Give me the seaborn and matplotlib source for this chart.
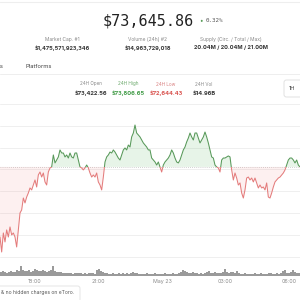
import numpy as np
import pandas as pd
import matplotlib
matplotlib.use("Agg")
import matplotlib.pyplot as plt
from matplotlib.patches import Rectangle, FancyBboxPatch
from matplotlib.lines import Line2D
import seaborn as sns

# ---------------- data ----------------
prices = [
    72781, 72644, 72818, 72736, 72846, 72781, 72873, 72800, 72818, 72781,
    72690, 72850, 73001, 73029, 73138, 73093, 73147, 73184, 73230, 73212,
    73257, 73303, 73239, 73349, 73376, 73330, 73367, 73285, 73257, 73376,
    73413, 73422, 73532, 73459, 73486, 73514, 73578, 73550, 73550, 73514,
    73532, 73504, 73550, 73514, 73504, 73550, 73550, 73486, 73422, 73413,
    73395, 73413, 73440, 73413, 73367, 73330, 73349, 73330, 73367, 73285,
    73257, 73212, 73330, 73468, 73514, 73532, 73559, 73550, 73578, 73559,
    73532, 73504, 73486, 73532, 73578, 73596, 73578, 73623, 73605, 73697,
    73733, 73806, 73733, 73715, 73697, 73669, 73642, 73623, 73605, 73578,
    73578,
    73504, 73486, 73468, 73440, 73468, 73422, 73376, 73440, 73468, 73486,
    73504, 73532, 73578, 73550, 73504, 73468, 73459, 73486, 73532, 73578,
    73605, 73651, 73687, 73733, 73697, 73669, 73733, 73733, 73687, 73642,
    73669, 73697, 73742, 73697, 73642, 73578, 73514, 73504, 73440, 73422,
    73413, 73376, 73486, 73504, 73504, 73514, 73523, 73514, 73395, 73303,
    73367, 73321, 73257, 73276, 73184, 73138, 73212, 73321, 73330, 73303,
    73321, 73285, 73321, 73276, 73230, 73257, 73230, 73239, 73212, 73276,
    73147, 73138, 73184, 73239, 73285, 73303, 73321, 73330, 73349, 73367,
    73395, 73440, 73486, 73504, 73504, 73486, 73459, 73486, 73440, 73422,
]
volumes = [
    4, 5, 4, 3, 4, 5, 4, 4, 6, 5,
    10, 6, 5, 5, 6, 4, 5, 7, 6, 5,
    5, 6, 5, 4, 5, 6, 10, 5, 4, 4,
    4, 3, 3, 3, 3, 3, 2, 3, 3, 3,
    3, 2, 3, 2, 3, 3, 3, 2, 6, 7,
    5, 4, 3, 3, 2, 2, 3, 2, 2, 3,
    2, 3, 2, 3, 2, 3, 4, 3, 3, 2,
    2, 2, 2, 3, 2, 2, 2, 3, 2, 2,
    2, 2, 3, 2, 2, 2, 3, 2, 2, 3,
    4, 6, 5, 4, 3, 3, 4, 3, 3, 2,
    3, 2, 3, 4, 5, 3, 3, 4, 3, 3,
    3, 4, 7, 4, 3, 4, 4, 3, 5, 3,
    2, 2, 3, 2, 2, 2, 2, 3, 2, 2,
    3, 2, 2, 2, 3, 3, 2, 2, 3, 2,
    3, 5, 6, 3, 3, 4, 6, 4, 3, 3,
]
open_price = 73422.56
start_hour, end_hour = 16.35, 30.52
tick_hours = [18, 21, 24, 27, 30]
tick_labels = ["18:00", "21:00", "May 23", "03:00", "06:00"]
grid_prices = [72600, 72800, 73000, 73200, 73400, 73600, 73800, 74000]

stat_labels = ["Market Cap. #1", "Volume (24h) #2", "Supply (Circ. / Total / Max)"]
stat_values = ["$1,475,571,923,346", "$14,963,729,018", "20.04M / 20.04M / 21.00M"]
day_labels = ["24H Open", "24H High", "24H Low", "24H Vol"]
day_values = ["$73,422.56", "$73,806.65", "$72,644.43", "$14.96B"]

# ---------------- style ----------------
sns.set_theme(style="white")
plt.rcParams['font.family'] = ['Inter', 'DejaVu Sans']

GREEN = '#58995a'
RED = '#e47c7c'
W = H = 300.0
def fx(x): return x / W
def fy(y): return 1 - y / H

fig = plt.figure(figsize=(3, 3), dpi=100)
fig.patch.set_facecolor('white')

# ---------------- price chart ----------------
ax = fig.add_axes([0, fy(258), 1, (258 - 100) / H])
hours = np.linspace(start_hour, end_hour, len(prices))
df = pd.DataFrame({'hour': hours, 'price': prices})
p = np.array(prices, dtype=float)
ax.set_xlim(start_hour, end_hour)
ax.set_ylim(72589, 74035)
for g in grid_prices:
    ax.axhline(g, color='#efefef', lw=0.7, zorder=0)
ax.axhline(open_price, color='#c4c4c4', lw=0.6, ls=(0, (1, 1.5)), zorder=1)
ax.fill_between(hours, p, open_price, where=p >= open_price, interpolate=True,
                color='#4caf50', alpha=0.13, lw=0, zorder=1)
ax.fill_between(hours, p, open_price, where=p <= open_price, interpolate=True,
                color='#f06060', alpha=0.09, lw=0, zorder=1)
sns.lineplot(data=df, x='hour', y='price', ax=ax, color=GREEN, lw=0.75, sort=False)
ax.lines[-1].set_clip_path(Rectangle((start_hour, open_price), end_hour - start_hour, 5000,
                                     transform=ax.transData))
sns.lineplot(data=df, x='hour', y='price', ax=ax, color=RED, lw=0.75, sort=False)
ax.lines[-1].set_clip_path(Rectangle((start_hour, open_price - 5000), end_hour - start_hour, 5000,
                                     transform=ax.transData))
ax.set_xlabel(''); ax.set_ylabel('')
ax.set_xticks([]); ax.set_yticks([])
for s in ax.spines.values():
    s.set_visible(False)
ax.patch.set_alpha(0)

# ---------------- volume ----------------
vax = fig.add_axes([0, fy(276), 1, 20 / H])
dh = (end_hour - start_hour) / len(volumes)
bar_hours = start_hour + dh * (np.arange(len(volumes)) + 0.5)
vax.bar(bar_hours, volumes, width=dh * 0.6, color='#9a9a9a', lw=0)
vax.axhline(0, color='#8a8a8a', lw=0.5)
vax.set_xlim(start_hour, end_hour)
vax.set_ylim(0, 20)
vax.set_yticks([])
vax.set_xticks(tick_hours)
vax.set_xticklabels(tick_labels)
vax.tick_params(axis='x', length=0, pad=2.5, labelsize=3.8, labelcolor='#8a8a8a')
for s in vax.spines.values():
    s.set_visible(False)
vax.patch.set_alpha(0)

# ---------------- header text ----------------
fig.add_artist(Line2D([0, 1], [fy(1.5), fy(1.5)], color='#eeeeee', lw=0.8))
fig.text(fx(148), fy(21), "$73,645.86", fontsize=10.9, family='DejaVu Sans Mono',
         ha='center', va='center', color='#222222')
fig.text(fx(201), fy(21), "•", fontsize=4.5, ha='center', va='center', color='#5a9e5a')
fig.text(fx(206), fy(21), "0.32%", fontsize=4.2, family='DejaVu Sans Mono',
         ha='left', va='center', color='#555555')

for xc, lab, val in zip([62, 148, 231], stat_labels, stat_values):
    fig.text(fx(xc), fy(39.5), lab, fontsize=3.5, ha='center', va='center', color='#8a8a8a')
    fig.text(fx(xc), fy(48), val, fontsize=4.0, ha='center', va='center',
             color='#333333', fontweight='bold')

fig.text(fx(-1), fy(66), "ts", fontsize=4.2, ha='left', va='center', color='#444444')
fig.text(fx(25), fy(66), "Platforms", fontsize=4.2, ha='left', va='center', color='#444444')
fig.add_artist(Line2D([0, 1], [fy(74), fy(74)], color='#eeeeee', lw=0.7))

label_cols = ['#8a8a8a', '#6aa86a', '#d98080', '#8a8a8a']
value_cols = ['#333333', '#3f9a45', '#d9534f', '#333333']
for xc, lab, val, lc, vc in zip([91, 128, 166, 204], day_labels, day_values, label_cols, value_cols):
    fig.text(fx(xc), fy(84), lab, fontsize=3.3, ha='center', va='center', color=lc)
    fig.text(fx(xc), fy(93), val, fontsize=4.1, ha='center', va='center', color=vc,
             fontweight='bold')

fig.add_artist(FancyBboxPatch((fx(284), fy(97)), fx(20), 17 / H,
                              boxstyle="round,pad=0,rounding_size=0.008",
                              transform=fig.transFigure, fc='white', ec='#dddddd', lw=0.6))
fig.text(fx(292), fy(88.5), "1H", fontsize=4.0, ha='center', va='center', color='#444444')

# ---------------- footer ----------------
fig.add_artist(FancyBboxPatch((fx(-6), fy(302)), fx(86), 16 / H,
                              boxstyle="round,pad=0,rounding_size=0.008",
                              transform=fig.transFigure, fc='white', ec='#e2e2e2', lw=0.6))
fig.text(fx(1), fy(292.5), "& no hidden charges on eToro.", fontsize=3.6,
         ha='left', va='center', color='#555555')

fig.savefig("out.png", dpi=100, facecolor='white')
